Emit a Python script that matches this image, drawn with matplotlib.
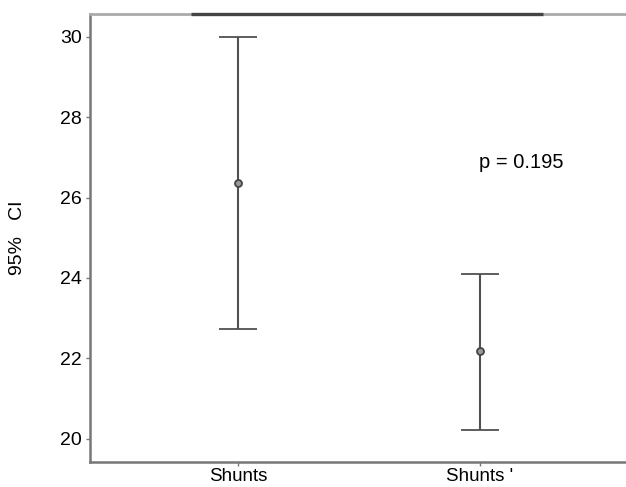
import matplotlib
matplotlib.use("Agg")
import matplotlib.pyplot as plt

categories = ["Shunts", "Shunts '"]
means = [26.36, 22.19]
lower = [22.73, 20.22]
upper = [30.0, 24.10]
yticks = [20, 22, 24, 26, 28, 30]
p_text = "p = 0.195"

plt.rcParams['font.family'] = ['Liberation Sans', 'DejaVu Sans']

fig = plt.figure(figsize=(6.26, 4.87), dpi=100)
ax = fig.add_axes([90/626, 1 - 461.5/487, 538/626, (461.5 - 14)/487])

x = [1, 2]
yerr = [[m - l for m, l in zip(means, lower)], [u - m for m, u in zip(means, upper)]]
ax.errorbar(x, means, yerr=yerr, fmt='o', color='#505050', ecolor='#505050',
            elinewidth=1.5, capsize=14, capthick=1.7, markersize=5,
            markerfacecolor='#999999', markeredgecolor='#444444', markeredgewidth=1.3)

ax.set_xlim(0.388, 2.612)
ax.set_ylim(19.44, 30.56)
ax.set_xticks(x)
ax.set_xticklabels(categories, fontsize=13.5)
ax.set_yticks(yticks)
ax.tick_params(axis='y', labelsize=14, length=3, width=1, color='#777777', pad=3)
ax.tick_params(axis='x', length=3, width=1, color='#777777', pad=1.5)

for s in ['left', 'bottom']:
    ax.spines[s].set_color('#777777')
    ax.spines[s].set_linewidth(1.8)
ax.spines['right'].set_visible(False)
ax.spines['top'].set_color('#aaaaaa')
ax.spines['top'].set_linewidth(2.0)
ax.plot([0.188, 0.842], [1, 1], transform=ax.transAxes, color='#444444',
        linewidth=2.4, clip_on=False, solid_capstyle='butt', zorder=5)

ax.set_ylabel("95%   CI", fontsize=14, labelpad=24)
ax.text(2.17, 26.88, p_text, fontsize=14.5, ha='center', va='center')

fig.savefig("out.png", dpi=100)
